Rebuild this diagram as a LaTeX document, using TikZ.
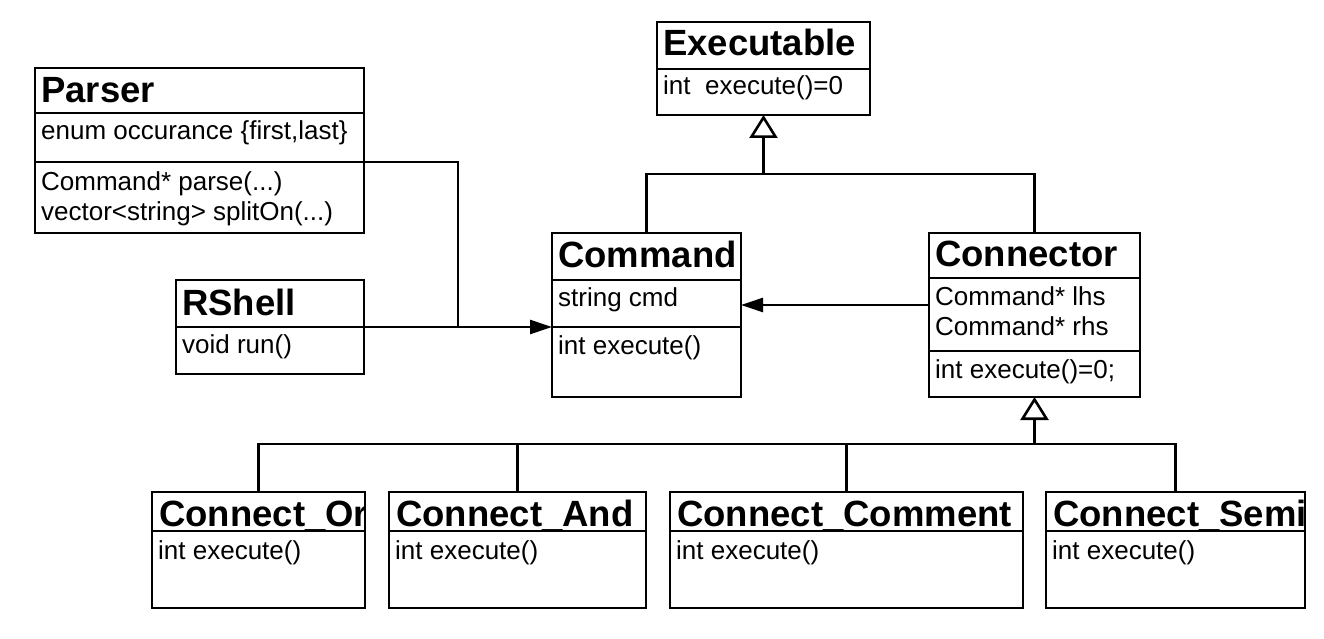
\documentclass[tikz,border=0pt]{standalone}
\usepackage{fontspec}
\setmainfont{Liberation Sans}
\usetikzlibrary{arrows.meta,calc}
\begin{document}
\begin{tikzpicture}[x=1pt,y=-1pt,
  umlline/.style={line width=2.6pt},
  cls/.style={draw, line width=2.6pt, rectangle, inner sep=0pt, outer sep=0pt, anchor=north west},
  ttl/.style={anchor=base west, inner sep=0pt, font=\fontsize{36.5}{42}\selectfont\bfseries},
  txt/.style={anchor=base west, inner sep=0pt, font=\fontsize{26}{30}\selectfont},
  assoc/.style={line width=2.6pt, -{Triangle[length=22pt,width=14pt]}},
  inherit/.style={line width=2.6pt, -{Triangle[open,length=23pt,width=28pt]}},
]
\useasboundingbox (0,0) rectangle (1324,639);

% class boxes
\node[cls, minimum width=213pt, minimum height=93pt]  (exe)    at (657,22)  {};
\node[cls, minimum width=329pt, minimum height=165pt] (parser) at (35,68)   {};
\node[cls, minimum width=188pt, minimum height=94pt]  (rshell) at (176,280) {};
\node[cls, minimum width=189pt, minimum height=164pt] (cmd)    at (552,233) {};
\node[cls, minimum width=211pt, minimum height=164pt] (conn)   at (929,233) {};
\node[cls, minimum width=213pt, minimum height=116pt] (cor)    at (152,492) {};
\node[cls, minimum width=257pt, minimum height=116pt] (cand)   at (389,492) {};
\node[cls, minimum width=353pt, minimum height=116pt] (ccom)   at (670,492) {};
\node[cls, minimum width=259pt, minimum height=116pt] (csemi)  at (1046,492) {};

% compartment separators
\draw[umlline] (exe.west |- 0,69) -- (exe.east |- 0,69);
\draw[umlline] (parser.west |- 0,113) -- (parser.east |- 0,113);
\draw[umlline] (parser.west |- 0,162) -- (parser.east |- 0,162);
\draw[umlline] (rshell.west |- 0,327) -- (rshell.east |- 0,327);
\draw[umlline] (cmd.west |- 0,280) -- (cmd.east |- 0,280);
\draw[umlline] (cmd.west |- 0,327) -- (cmd.east |- 0,327);
\draw[umlline] (conn.west |- 0,278) -- (conn.east |- 0,278);
\draw[umlline] (conn.west |- 0,351) -- (conn.east |- 0,351);
\foreach \b in {cor,cand,ccom,csemi}
  \draw[umlline] (\b.west |- 0,531) -- (\b.east |- 0,531);

% titles (long ones are clipped by their box)
\node[ttl] (exe-t)    at (663,56)  {Executable};
\node[ttl] (parser-t) at (41,103)  {Parser};
\node[ttl] (rshell-t) at (182,315) {RShell};
\node[ttl] (cmd-t)    at (558,267) {Command};
\node[ttl] (conn-t)   at (935,266) {Connector};
\begin{scope}
  \clip (cor.north west) rectangle (cor.east |- 0,531);
  \node[ttl] (cor-t) at (159,526) {Connect\_Or};
\end{scope}
\node[ttl] (cand-t) at (396,526) {Connect\_And};
\node[ttl] (ccom-t) at (677,526) {Connect\_Comment};
\begin{scope}
  \clip (csemi.north west) rectangle (csemi.east |- 0,531);
  \node[ttl] (csemi-t) at (1053,526) {Connect\_Semi};
\end{scope}

% members
\node[txt] (exe-m1)    at (663,95)  {int\ \ execute()=0};
\node[txt] (parser-a1) at (41,140)  {enum occurance \{first,last\}};
\node[txt] (parser-m1) at (41,190)  {Command* parse(...)};
\node[txt] (parser-m2) at (41,220)  {vector<string> splitOn(...)};
\node[txt] (rshell-m1) at (182,353) {void run()};
\node[txt] (cmd-a1)    at (558,306) {string cmd};
\node[txt] (cmd-m1)    at (558,354) {int execute()};
\node[txt] (conn-a1)   at (935,305) {Command* lhs};
\node[txt] (conn-a2)   at (935,335) {Command* rhs};
\node[txt] (conn-m1)   at (935,378) {int execute()=0;};
\node[txt] (cor-m1)    at (158,559) {int execute()};
\node[txt] (cand-m1)   at (395,559) {int execute()};
\node[txt] (ccom-m1)   at (676,559) {int execute()};
\node[txt] (csemi-m1)  at (1052,559) {int execute()};

% associations
\coordinate (pbend) at (458,162);
\coordinate (pjoin) at (458,327);
\draw[umlline] (parser.east |- pbend) -- (pbend) -- (pjoin);
\draw[assoc] (rshell.east |- pjoin) -- (cmd.west |- pjoin);
\draw[assoc] (conn.west |- 0,305) -- (cmd.east |- 0,305);

% generalisation to Executable
\coordinate (jtop) at (exe.south |- 0,174);
\draw[umlline] (cmd.north) |- (conn.north |- jtop) -- (conn.north);
\draw[inherit] (jtop) -- (exe.south);

% generalisation to Connector
\coordinate (jbot) at (conn.south |- 0,444);
\draw[inherit] (jbot) -- (conn.south);
\draw[umlline] (cor.north) |- (csemi.north |- jbot) -- (csemi.north);
\draw[umlline] (cand.north) -- (cand.north |- jbot);
\draw[umlline] (ccom.north) -- (ccom.north |- jbot);
\end{tikzpicture}
\end{document}
